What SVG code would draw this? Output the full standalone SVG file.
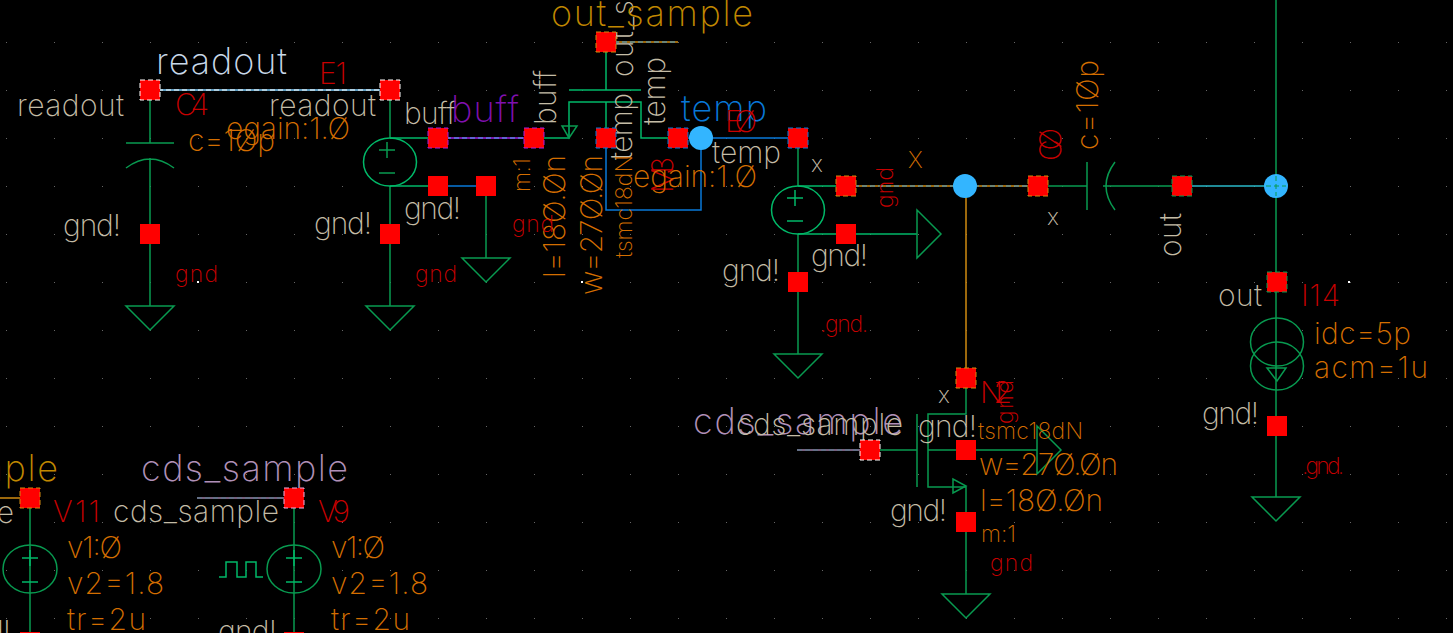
<svg xmlns="http://www.w3.org/2000/svg" width="1453" height="633" viewBox="0 0 1453 633">
<style>
text{font-family:"Inter","Lato","Liberation Sans",sans-serif;font-weight:200;font-size:30px}
.b{fill:#c4bca6}.o{fill:#d46e00}.r{fill:#c80000}.s{font-size:23px}.l{font-size:36px}
.w{fill:none;stroke:#089a50;stroke-width:1.5}
.g{fill:none;stroke:#00b868;stroke-width:1.5}
.p{fill:#f00;stroke:none}
.d{fill:none;stroke-width:1;stroke-dasharray:5 3}
.n{fill:none;stroke-width:1.5}
.dot{fill:#33b5ff}
</style>
<defs>
<rect id="sq" class="p" x="-10" y="-10" width="20" height="20"/>
<path id="gn" class="w" d="M-24 0H24L0 24Z"/>
<pattern id="grid" width="48" height="48" patternUnits="userSpaceOnUse" x="6" y="42"><rect width="1" height="1" fill="#666"/></pattern>
</defs>
<rect width="1453" height="633" fill="#000"/>
<rect width="1453" height="633" fill="url(#grid)"/>
<g id="connectors">
<path class="w" d="M150 90V143M126 143H174M126 168Q150 150 174 168M150 158V306M390 90V138M390 186V306M486 186V258M798 138V186M798 234V354M966 378V414H928V487H966V594M917 414V487M870 450H917M928 450H1037M1087 162V210M1115 162Q1097 186 1115 210M1103 186H1182M1038 186H1087M1276 0V497M30 498V633M294 498V633"/>
<path class="g" d="M390 138H438M390 186H438M534 138H569V102H641V138H668M569 90H641M606 42V90M606 102V138M798 186H846M798 234H917"/>
<path class="n" stroke="#0878d8" d="M606 138V210H701V138M678 138H798M438 186H486"/>
<path class="n" d="M150 90H390" stroke="#7fd0ff"/>
<path d="M150 90H390" class="d" stroke="#fff"/>
<path class="n" d="M438 138H534" stroke="#a020e0"/>
<path d="M438 138H534" class="d" stroke="#4ab0ff"/>
<path class="n" d="M606 42H678M846 186H1038M966 186V378M0 498H30" stroke="#d08a10"/>
<path d="M606 42H678M846 186H1038" class="d" stroke="#3aa0e0"/>
<path class="n" d="M1182 186H1276" stroke="#2ab8c8"/>
<path class="n" d="M797 450H870M197 498H294" stroke="#a080a8"/>
<path d="M797 450H870M197 498H294" class="d" stroke="#508090"/>
</g>
<g id="ground-symbols">
<use href="#gn" x="150" y="306"/><use href="#gn" x="390" y="306"/><use href="#gn" x="486" y="258"/><use href="#gn" x="798" y="354"/><use href="#gn" x="966" y="594"/><use href="#gn" x="1276" y="497"/>
</g>
<g id="E1"><ellipse class="g" cx="390" cy="162" rx="26.5" ry="24"/><path class="w" d="M379 150H395M387 142V158M379 173H395"/>
<text class="r" x="319" y="84" textLength="28">E1</text><text class="b" x="269" y="116" textLength="107">readout</text><text class="o" x="226" y="139" textLength="124">egain:1.Ø</text><text class="b" x="314" y="234" textLength="58">gnd!</text><text class="r s" x="415" y="282" textLength="42">gnd</text><text class="b" x="404" y="219" textLength="57">gnd!</text><text class="b" x="404" y="124" textLength="52">buff</text>
<use href="#sq" x="390" y="90"/><path class="d" stroke="#fff" d="M380 80h20v20h-20z"/><use href="#sq" x="390" y="234"/><use href="#sq" x="438" y="138"/><path class="d" stroke="#a020e0" d="M428 128h20v20h-20z"/><use href="#sq" x="438" y="186"/><use href="#sq" x="486" y="186"/></g>
<g id="C4"><text fill="#c8d8e8" class="l" x="156" y="74" textLength="131">readout</text><text class="b" x="17" y="116" textLength="107">readout</text><text class="r" x="175" y="115" textLength="34">C4</text><text class="o" x="188" y="151" textLength="87">c=1Øp</text><text class="b" x="63" y="236" textLength="58">gnd!</text><text class="r s" x="175" y="282" textLength="43">gnd</text>
<use href="#sq" x="150" y="90"/><path class="d" stroke="#fff" d="M140 80h20v20h-20z"/><use href="#sq" x="150" y="234"/></g>
<g id="M3">
<path class="w" d="M562 126H577L569 138Z"/>
<text class="b" transform="translate(556 125) rotate(-90)" textLength="55">buff</text>
<text fill="#8010b0" class="l" x="451" y="122" textLength="68">buff</text>
<text class="b" transform="translate(633 77) rotate(-90)" textLength="77">out_s</text>
<text class="b" transform="translate(665 125) rotate(-90)" textLength="68">temp</text>
<text class="b" transform="translate(632 160) rotate(-90)" textLength="67">temp</text>
<text class="o s" transform="translate(530 192) rotate(-90)" textLength="34">m:1</text>
<text class="o" transform="translate(565 278) rotate(-90)" textLength="123">l=18Ø.Øn</text>
<text class="o" transform="translate(602 295) rotate(-90)" textLength="140">w=27Ø.Øn</text>
<text class="o s" transform="translate(632 258) rotate(-90)" textLength="103">tsmc18dN</text>
<text class="r" transform="translate(673 193) rotate(-90)" textLength="36">M3</text>
<text class="r s" x="512" y="232" textLength="42">gnd</text>
<text fill="#c08800" class="l" x="551" y="26" textLength="202">out_sample</text>
<use href="#sq" x="534" y="138"/><path class="d" stroke="#a020e0" d="M524 128h20v20h-20z"/><use href="#sq" x="606" y="42"/><path class="d" stroke="#d08a10" d="M596 32h20v20h-20z"/><use href="#sq" x="606" y="138"/><path class="d" stroke="#0878d8" d="M596 128h20v20h-20z"/><use href="#sq" x="678" y="138"/><path class="d" stroke="#0878d8" d="M668 128h20v20h-20z"/>
<circle class="dot" cx="701" cy="138" r="12"/></g>
<g id="E0"><ellipse class="g" cx="798" cy="210" rx="26.5" ry="24"/><path class="g" d="M787 198H803M795 190V206M787 221H803"/>
<text fill="#0878d8" class="l" x="681" y="121" textLength="86">temp</text><text class="r" x="725" y="132" textLength="32">EØ</text><text class="b" x="712" y="163" textLength="69">temp</text><text class="o" x="633" y="187" textLength="124">egain:1.Ø</text><text class="b s" x="811" y="172" textLength="12">x</text><text class="o s" x="908" y="168" textLength="16">X</text><text class="b" x="722" y="281" textLength="58">gnd!</text><text class="b" x="811" y="266" textLength="57">gnd!</text><text class="r s" x="820" y="332" textLength="48">.gnd.</text><text class="r s" transform="translate(893 208) rotate(-90)" textLength="41">gnd</text>
<path class="w" d="M917 210V258L941 234Z"/>
<use href="#sq" x="798" y="138"/><path class="d" stroke="#0878d8" d="M788 128h20v20h-20z"/><use href="#sq" x="846" y="186"/><path class="d" stroke="#d08a10" d="M836 176h20v20h-20z"/><use href="#sq" x="846" y="234"/><use href="#sq" x="798" y="282"/></g>
<g id="C0"><text class="r" transform="translate(1061 161) rotate(-90)" textLength="33">CØ</text><text class="o" transform="translate(1098 150) rotate(-90)" textLength="90">c=1Øp</text><text class="b s" x="1047" y="225" textLength="14">x</text><text class="b" transform="translate(1181 257) rotate(-90)" textLength="44">out</text>
<circle class="dot" cx="965" cy="186" r="12"/><use href="#sq" x="1038" y="186"/><path class="d" stroke="#d08a10" d="M1028 176h20v20h-20z"/><use href="#sq" x="1182" y="186"/><path class="d" stroke="#089a50" d="M1172 176h20v20h-20z"/><circle class="dot" cx="1276" cy="186" r="12"/><path class="d" stroke="#089a50" d="M1266 186h20M1276 176v20"/></g>
<g id="I14"><ellipse class="w" cx="1277" cy="342" rx="26.5" ry="24"/><ellipse class="w" cx="1277" cy="366" rx="26.5" ry="24"/><path class="w" d="M1267 368H1286L1277 381Z"/>
<text class="b" x="1218" y="306" textLength="44">out</text><text class="r" x="1301" y="306" textLength="39">I14</text><text class="o" x="1314" y="344" textLength="97">idc=5p</text><text class="o" x="1314" y="378" textLength="114">acm=1u</text><text class="b" x="1202" y="424" textLength="57">gnd!</text><text class="r s" x="1302" y="474" textLength="42">.gnd.</text>
<use href="#sq" x="1277" y="282"/><path class="d" stroke="#089a50" d="M1267 272h20v20h-20z"/><use href="#sq" x="1277" y="426"/></g>
<g id="N2"><path class="w" d="M953 479V493L966 486Z"/><path class="w" d="M1037 426V474L1061 450Z"/>
<text fill="#b090b8" class="l" x="693" y="434" textLength="210">cds_sample</text><text class="b" x="736" y="435" textLength="167">cds_sample</text><text class="b" x="918" y="437" textLength="59">gnd!</text><text class="b s" x="938" y="403" textLength="12">x</text><text class="r" x="980" y="403" textLength="32">N2</text><text class="r s" transform="translate(1013 424) rotate(-90)" textLength="44">gnd</text><text class="o s" x="978" y="439" textLength="105">tsmc18dN</text><text class="o" x="979" y="475" textLength="139">w=27Ø.Øn</text><text class="o" x="980" y="511" textLength="123">l=18Ø.Øn</text><text class="o s" x="981" y="542" textLength="35">m:1</text><text class="r s" x="990" y="571" textLength="43">gnd</text><text class="b" x="890" y="521" textLength="57">gnd!</text>
<use href="#sq" x="966" y="378"/><path class="d" stroke="#d08a10" d="M956 368h20v20h-20z"/><use href="#sq" x="870" y="450"/><path class="d" stroke="#fff" d="M860 440h20v20h-20z"/><use href="#sq" x="966" y="450"/><use href="#sq" x="966" y="522"/></g>
<g id="V11"><ellipse class="w" cx="30" cy="569" rx="27" ry="24"/><path class="g" d="M22 558H38M30 550V566M22 582H38"/>
<text fill="#c08800" class="l" x="-144" y="481" textLength="202">out_sample</text><text class="b" x="-153" y="523" textLength="167">out_sample</text><text class="r" x="53" y="522" textLength="47">V11</text><text class="o" x="67" y="558" textLength="55">v1:Ø</text><text class="o" x="67" y="594" textLength="97">v2=1.8</text><text class="o" x="67" y="630" textLength="79">tr=2u</text><text class="b" x="-47" y="642" textLength="58">gnd!</text>
<use href="#sq" x="30" y="498"/><path class="d" stroke="#d08a10" d="M20 488h20v20h-20z"/><use href="#sq" x="30" y="642"/></g>
<g id="V9"><ellipse class="w" cx="294" cy="569" rx="27" ry="24"/><path class="g" d="M286 558H302M294 550V566M286 582H302"/><path class="g" d="M219 577H226V562H237V577H246V562H256V577H263"/>
<text fill="#b090b8" class="l" x="141" y="481" textLength="207">cds_sample</text><text class="b" x="113" y="522" textLength="166">cds_sample</text><text class="r" x="318" y="522" textLength="32">V9</text><text class="o" x="331" y="558" textLength="54">v1:Ø</text><text class="o" x="331" y="594" textLength="97">v2=1.8</text><text class="o" x="331" y="630" textLength="79">tr=2u</text><text class="b" x="218" y="642" textLength="59">gnd!</text>
<use href="#sq" x="294" y="498"/><path class="d" stroke="#f0b0e0" d="M284 488h20v20h-20z"/><use href="#sq" x="294" y="642"/></g>
<rect x="197" y="281" width="2" height="2" fill="#fff"/><rect x="581" y="281" width="2" height="2" fill="#fff"/><rect x="1348" y="281" width="2" height="2" fill="#fff"/>
</svg>
